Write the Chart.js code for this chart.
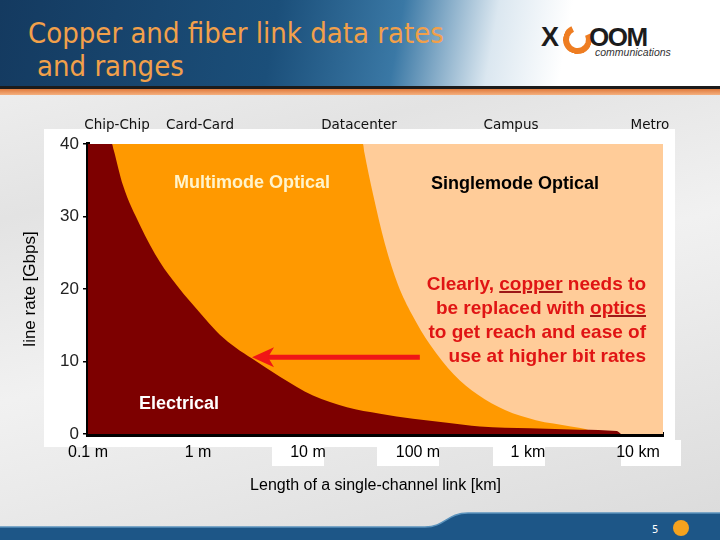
<!DOCTYPE html>
<html lang="en">
<head>
  <meta charset="UTF-8" />
  <title>Copper and fiber link data rates and ranges</title>
  <script src="https://cdn.jsdelivr.net/npm/chart.js"></script>
  <style>
    body { margin: 0; }
    #slide {
      position: relative; width: 720px; height: 540px; overflow: hidden;
      font-family: "Liberation Sans", Arial, sans-serif;
      background: linear-gradient(165deg, #f4f4f4 0%, #e3e3e3 30%, #f1f1f1 55%, #dadada 100%);
    }
    .header {
      position: absolute; left: 0; top: 0; width: 720px; height: 86px;
      background: linear-gradient(100deg, #143a60 0%, #1b4f7a 38%, #3a78a5 55%, #dbe7f0 68%, #ffffff 78%);
    }
    .rule1 { position: absolute; left: 0; top: 86px; width: 720px; height: 3px; background: #1b1b1b; }
    .rule2 { position: absolute; left: 0; top: 89px; width: 720px; height: 6px;
      background: linear-gradient(#e07a3c, #f4b07f); }
    .title { position: absolute; color: #f2a04a; font-family: "DejaVu Sans Condensed", "DejaVu Sans", sans-serif;
      font-size: 29px; line-height: 32px; white-space: nowrap; }
    .logo { position: absolute; font-family: "Liberation Sans", Arial, sans-serif; font-weight: bold; color: #1c1c1c; }
    .ring { position: absolute; left: 563px; top: 25px; width: 17px; height: 17px; border-radius: 50%;
      border: 6px solid #ee7d22; border-top-color: transparent; transform: rotate(20deg); }
    .panel { position: absolute; background: #ffffff; }
    .cat { position: absolute; top: 116px; font-family: "DejaVu Sans", sans-serif; font-size: 13.5px;
      line-height: 16px; color: #111; transform: translateX(-50%); white-space: nowrap; }
    .note { position: absolute; font-weight: bold; font-size: 18px; line-height: 20px;
      transform: translate(-50%, -50%); white-space: nowrap; }
    .claim { position: absolute; right: 74px; top: 272px; text-align: right; color: #e01414;
      font-weight: bold; font-size: 19px; line-height: 24px; white-space: nowrap; }
    .claim u { text-decoration-color: #9c1818; text-decoration-thickness: 2px; }
    canvas { position: absolute; left: 0; top: 0; }
  </style>
</head>
<body>
<div id="slide">
  <div class="header"></div>
  <div class="rule1"></div>
  <div class="rule2"></div>
  <div class="title" style="left:28px; top:17px;">Copper and fiber link data rates</div>
  <div class="title" style="left:37px; top:50px;">and ranges</div>

  <div class="logo" style="left:541px; top:22px; font-size:27px;">X</div>
  <div class="ring"></div>
  <div class="logo" style="left:589px; top:22px; font-size:26px; letter-spacing:-1.5px;">OOM</div>
  <div class="logo" style="left:595px; top:46px; font-size:10.5px; font-weight:normal; font-style:italic; color:#333;">communications</div>

  <svg width="720" height="540" style="position:absolute; left:0; top:0;">
    <path d="M0 527 L425 527 C445 527 447 513 468 513 L720 513 L720 540 L0 540 Z" fill="#1d5687"/>
    <path d="M0 527 L425 527 C445 527 447 513 468 513 L720 513" fill="none" stroke="#5b93bd" stroke-width="1.5"/>
    <circle cx="681" cy="528" r="8" fill="#f5a21e"/>
    <text x="652" y="533" font-size="10" fill="#ffffff" font-family="DejaVu Sans">5</text>
  </svg>

  <!-- white card behind the chart and the tick-label boxes -->
  <div class="panel" style="left:44px; top:129px; width:631px; height:318px;"></div>
  <div class="panel" style="left:272px; top:440px; width:52px; height:26px;"></div>
  <div class="panel" style="left:377px; top:440px; width:62px; height:26px;"></div>
  <div class="panel" style="left:493px; top:440px; width:52px; height:26px;"></div>
  <div class="panel" style="left:621px; top:440px; width:60px; height:26px;"></div>

  <canvas id="rangeChart" width="720" height="540"></canvas>

  <div class="cat" style="left:117px;">Chip-Chip</div>
  <div class="cat" style="left:200px;">Card-Card</div>
  <div class="cat" style="left:359px;">Datacenter</div>
  <div class="cat" style="left:511px;">Campus</div>
  <div class="cat" style="left:650px;">Metro</div>

  <div class="note" style="left:252px; top:182px; color:#fff4cc;">Multimode Optical</div>
  <div class="note" style="left:515px; top:183px; color:#000;">Singlemode Optical</div>
  <div class="note" style="left:179px; top:403px; color:#ffffff;">Electrical</div>
  <div class="claim">Clearly, <u>copper</u> needs to<br>be replaced with <u>optics</u><br>to get reach and ease of<br>use at higher bit rates</div>
</div>

<script>
  // x axis: link length in metres (log), y axis: line rate in Gbps
  const xTickValues = [0.1, 1, 10, 100, 1000, 10000];
  const xTickLabels = ["0.1 m", "1 m", "10 m", "100 m", "1 km", "10 km"];
  const yTickValues = [0, 10, 20, 30, 40];

  // upper edge of each region
  const electricalLength = [0.1, 0.165, 0.171, 0.208, 0.297, 0.452, 0.644, 0.845, 1.16, 1.58, 2.21, 3.10, 5.56, 11.1, 22.6, 45.2, 90.2, 184, 366, 1040, 2970, 6440, 7000];
  const electricalRate   = [40, 40, 39.2, 34.3, 28.8, 23.7, 20.5, 18.3, 15.9, 13.7, 11.9, 10.4, 7.9, 5.3, 3.7, 2.8, 2.1, 1.55, 1.05, 0.8, 0.6, 0.4, 0];

  const multimodeLength = [0.1, 31.6, 32.6, 39.0, 50.1, 65.8, 88.2, 129, 212, 351, 618, 1180, 2460, 3660, 4240];
  const multimodeRate   = [40, 40, 38.8, 33.1, 26.2, 20.6, 16.5, 12.3, 8.2, 5.4, 3.3, 1.9, 1.05, 0.5, 0];

  const singlemodeLength = [0.1, 16900];
  const singlemodeRate   = [40, 40];

  // red arrow: from ~100 m back to ~3 m at ~10 Gbps
  const arrowFrom = 104;
  const arrowTo = 3.1;
  const arrowRate = 10.6;

  function toPoints(xs, ys) {
    return xs.map((v, i) => ({ x: v, y: ys[i] }));
  }

  function area(label, xs, ys, color) {
    return {
      label: label,
      data: toPoints(xs, ys),
      backgroundColor: color,
      borderColor: color,
      borderWidth: 0,
      pointRadius: 0,
      fill: "origin",
      cubicInterpolationMode: "monotone"
    };
  }

  const arrowPlugin = {
    id: "arrow",
    afterDatasetsDraw(chart) {
      const { ctx, scales: { x, y } } = chart;
      const x0 = x.getPixelForValue(arrowFrom);
      const x1 = x.getPixelForValue(arrowTo);
      const yy = y.getPixelForValue(arrowRate);
      ctx.save();
      ctx.strokeStyle = "#f01616";
      ctx.fillStyle = "#f01616";
      ctx.lineWidth = 5;
      ctx.beginPath();
      ctx.moveTo(x0, yy);
      ctx.lineTo(x1 + 14, yy);
      ctx.stroke();
      ctx.beginPath();
      ctx.moveTo(x1, yy);
      ctx.lineTo(x1 + 22, yy - 10);
      ctx.lineTo(x1 + 16, yy);
      ctx.lineTo(x1 + 22, yy + 10);
      ctx.closePath();
      ctx.fill();
      ctx.restore();
    }
  };

  Chart.defaults.font.family = "'Liberation Sans', Arial, sans-serif";

  const ctx = document.getElementById("rangeChart").getContext("2d");
  new Chart(ctx, {
    type: "line",
    data: {
      datasets: [
        area("Electrical", electricalLength, electricalRate, "#7d0000"),
        area("Multimode Optical", multimodeLength, multimodeRate, "#ff9900"),
        area("Singlemode Optical", singlemodeLength, singlemodeRate, "#ffcc99")
      ]
    },
    options: {
      responsive: false,
      animation: false,
      layout: { padding: { left: 16, right: 57, top: 144, bottom: 41 } },
      plugins: { legend: { display: false }, tooltip: { enabled: false } },
      scales: {
        x: {
          type: "logarithmic",
          min: 0.1,
          max: 16900,
          z: 1,
          afterBuildTicks: s => { s.ticks = xTickValues.map(v => ({ value: v })); },
          afterFit: s => { s.height = 65; },
          ticks: {
            callback: (v, i) => xTickLabels[i],
            color: "#000",
            font: { size: 16 },
            padding: 9,
            autoSkip: false,
            maxRotation: 0
          },
          grid: { display: false, drawTicks: false },
          border: { display: true, color: "#000", width: 5 },
          title: { display: true, text: "Length of a single-channel link [km]", color: "#000", font: { size: 16 } }
        },
        y: {
          min: 0,
          max: 40,
          z: 1,
          afterBuildTicks: s => { s.ticks = yTickValues.map(v => ({ value: v })); },
          afterFit: s => { s.width = 72; },
          ticks: { color: "#222", font: { size: 17 }, padding: 4 },
          grid: { drawOnChartArea: false, tickLength: 5, color: "#000", lineWidth: 1.5 },
          border: { display: true, color: "#000", width: 4 },
          title: { display: true, text: "line rate [Gbps]", color: "#000", font: { size: 17 } }
        }
      }
    },
    plugins: [arrowPlugin]
  });
</script>
</body>
</html>
